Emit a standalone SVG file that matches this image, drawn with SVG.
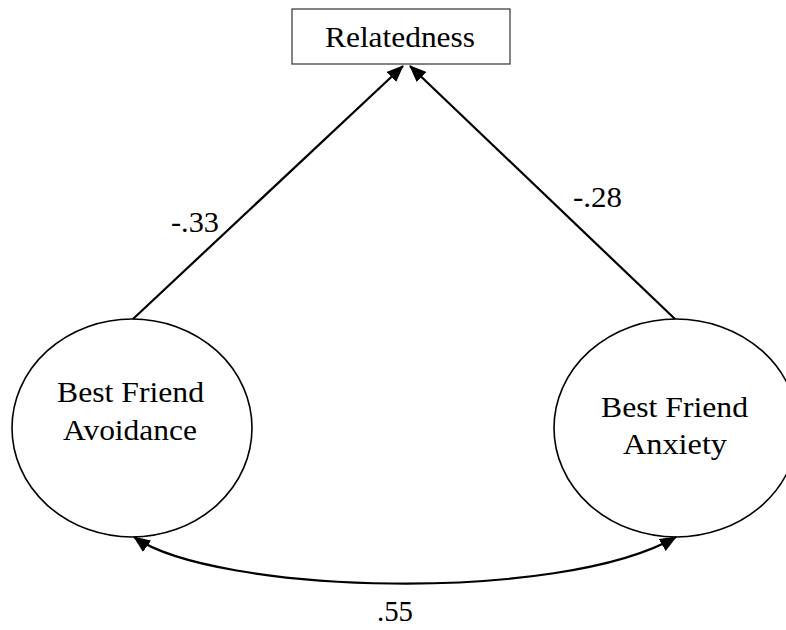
<svg xmlns="http://www.w3.org/2000/svg" width="786" height="630" viewBox="0 0 786 630">
  <style>
    text { font-family: "Liberation Serif", "Times New Roman", serif; font-size: 29px; fill: #000; }
    .node-box { fill: #fff; stroke: #333; stroke-width: 1.2; }
    .node-oval { fill: #fff; stroke: #000; stroke-width: 1.6; }
    .edge { fill: none; stroke: #000; stroke-width: 2.2; }
  </style>
  <defs>
    <marker id="arrow" viewBox="0 0 17 14" markerWidth="17" markerHeight="14" refX="16" refY="7" orient="auto-start-reverse" markerUnits="userSpaceOnUse">
      <path d="M0,0 L17,7 L0,14 z" fill="#000"/>
    </marker>
  </defs>
  <rect width="786" height="630" fill="#fff"/>

  <g id="relatedness">
    <rect class="node-box" x="292" y="9" width="218" height="55"/>
    <text x="325" y="47" textLength="150" lengthAdjust="spacingAndGlyphs">Relatedness</text>
  </g>

  <g id="avoidance">
    <ellipse class="node-oval" cx="132" cy="428" rx="120" ry="109"/>
    <text x="57" y="402" textLength="147" lengthAdjust="spacingAndGlyphs">Best Friend</text>
    <text x="63" y="440" textLength="134" lengthAdjust="spacingAndGlyphs">Avoidance</text>
  </g>

  <g id="anxiety">
    <ellipse class="node-oval" cx="676" cy="428" rx="122" ry="109"/>
    <text x="601" y="417" textLength="147" lengthAdjust="spacingAndGlyphs">Best Friend</text>
    <text x="623" y="454" textLength="104" lengthAdjust="spacingAndGlyphs">Anxiety</text>
  </g>

  <g id="connectors">
    <line class="edge" x1="133" y1="319" x2="403" y2="66" marker-end="url(#arrow)"/>
    <line class="edge" x1="675" y1="319" x2="410" y2="66" marker-end="url(#arrow)"/>
    <path class="edge" d="M134,537 C215,594 560,604 676,537" marker-start="url(#arrow)" marker-end="url(#arrow)"/>
    <text x="171" y="232" textLength="48" lengthAdjust="spacingAndGlyphs">-.33</text>
    <text x="573" y="207" textLength="49" lengthAdjust="spacingAndGlyphs">-.28</text>
    <text x="377" y="621" textLength="36" lengthAdjust="spacingAndGlyphs">.55</text>
  </g>
</svg>
